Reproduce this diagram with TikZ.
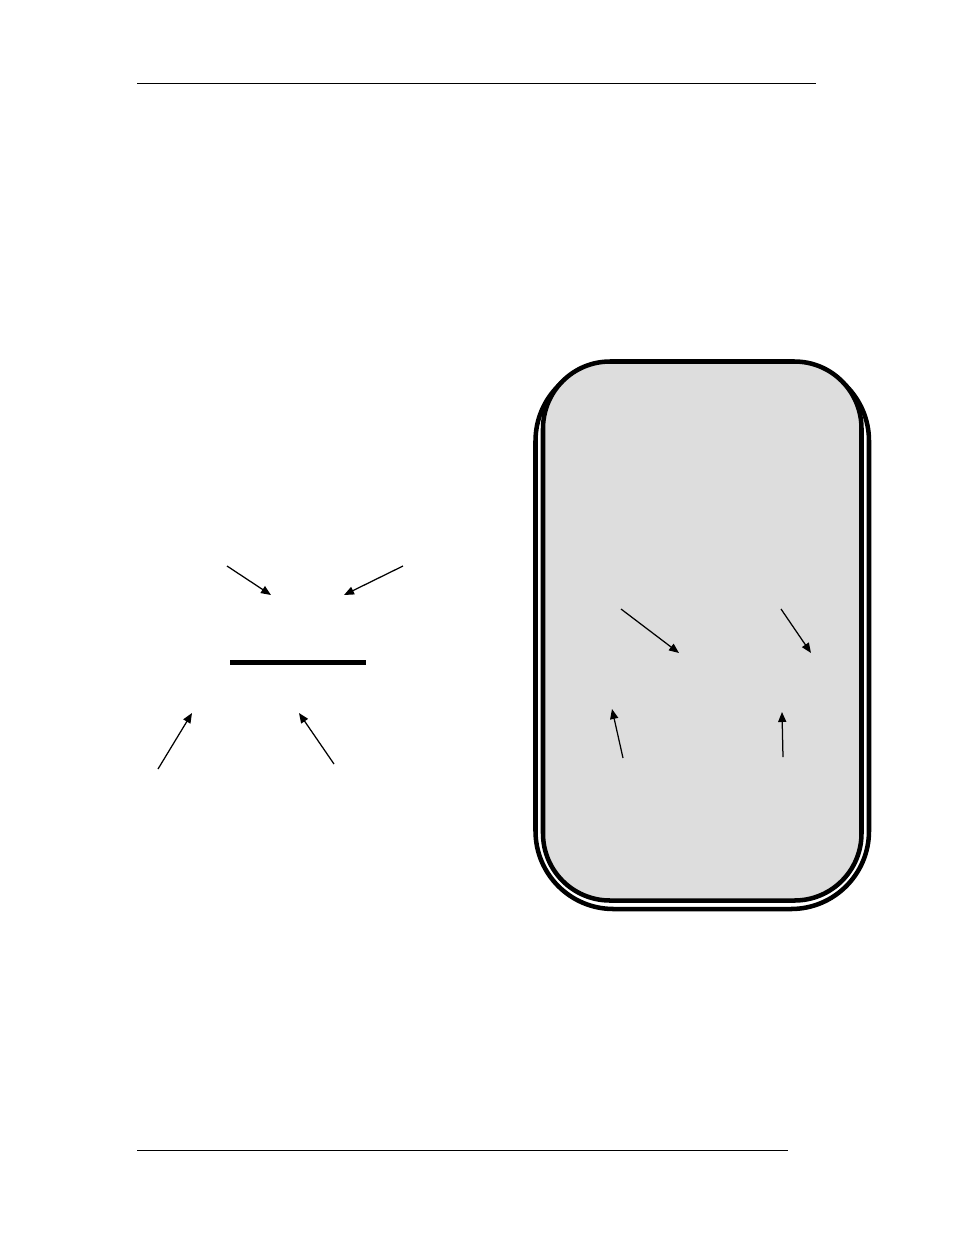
\documentclass[tikz,border=0pt]{standalone}
\usepackage{tikz}
\usetikzlibrary{
	arrows.meta,
	positioning
}
\definecolor{panel}{RGB}{221,221,221}
\tikzset{
  % arrow
	cstra/.style      ={-{Triangle[length=6.4pt,width=5.2pt]}, line width=0.8pt},
  % line
	cstrule/.style    ={line width=0.65pt},
	cstbar/.style     ={line width=3.6pt},
  % box
	cstframe/.style   ={draw=black, line width=2.9pt, rounded corners=50pt},
	cstpanel/.style   ={fill=panel, draw=black, line width=2.9pt, rounded corners=43pt}
}

\begin{document}
\begin{tikzpicture}[x=0.6415pt,y=-0.6415pt]
			\useasboundingbox (0,0) rectangle (954,1235);
			% header and footer rules
			\coordinate (HL) at (137,83);
			\coordinate (HR) at (816,83);
			\coordinate (FL) at (137,1150);
			\coordinate (FR) at (788,1150);
			\draw[cstrule] (HL)--(HR);
			\draw[cstrule] (FL)--(FR);
			% left part
			\coordinate (BarL) at (230,662.5);
			\coordinate (BarR) at (366,662.5);
			\draw[cstbar] (BarL)--(BarR);
			\coordinate (A1) at (227,566);
			\coordinate (A2) at (271,595);
			\coordinate (B1) at (403,566);
			\coordinate (B2) at (344,595);
			\coordinate (C1) at (158,769);
			\coordinate (C2) at (192,713);
			\coordinate (D1) at (334,764);
			\coordinate (D2) at (299,713);
			\draw[cstra] (A1)--(A2);
			\draw[cstra] (B1)--(B2);
			\draw[cstra] (C1)--(C2);
			\draw[cstra] (D1)--(D2);
			% right part
			\draw[cstframe] (535.5,363) rectangle (869,909);
			\draw[cstpanel] (543,361.5) rectangle (861.5,900.5);
			\coordinate (E1) at (621,609);
			\coordinate (E2) at (679,653);
			\coordinate (F1) at (781,609);
			\coordinate (F2) at (811,653);
			\coordinate (G1) at (623,758);
			\coordinate (G2) at (612,709);
			\coordinate (H1) at (783,757);
			\coordinate (H2) at (782,712);
			\draw[cstra] (E1)--(E2);
			\draw[cstra] (F1)--(F2);
			\draw[cstra] (G1)--(G2);
			\draw[cstra] (H1)--(H2);
		\end{tikzpicture}
\end{document}
